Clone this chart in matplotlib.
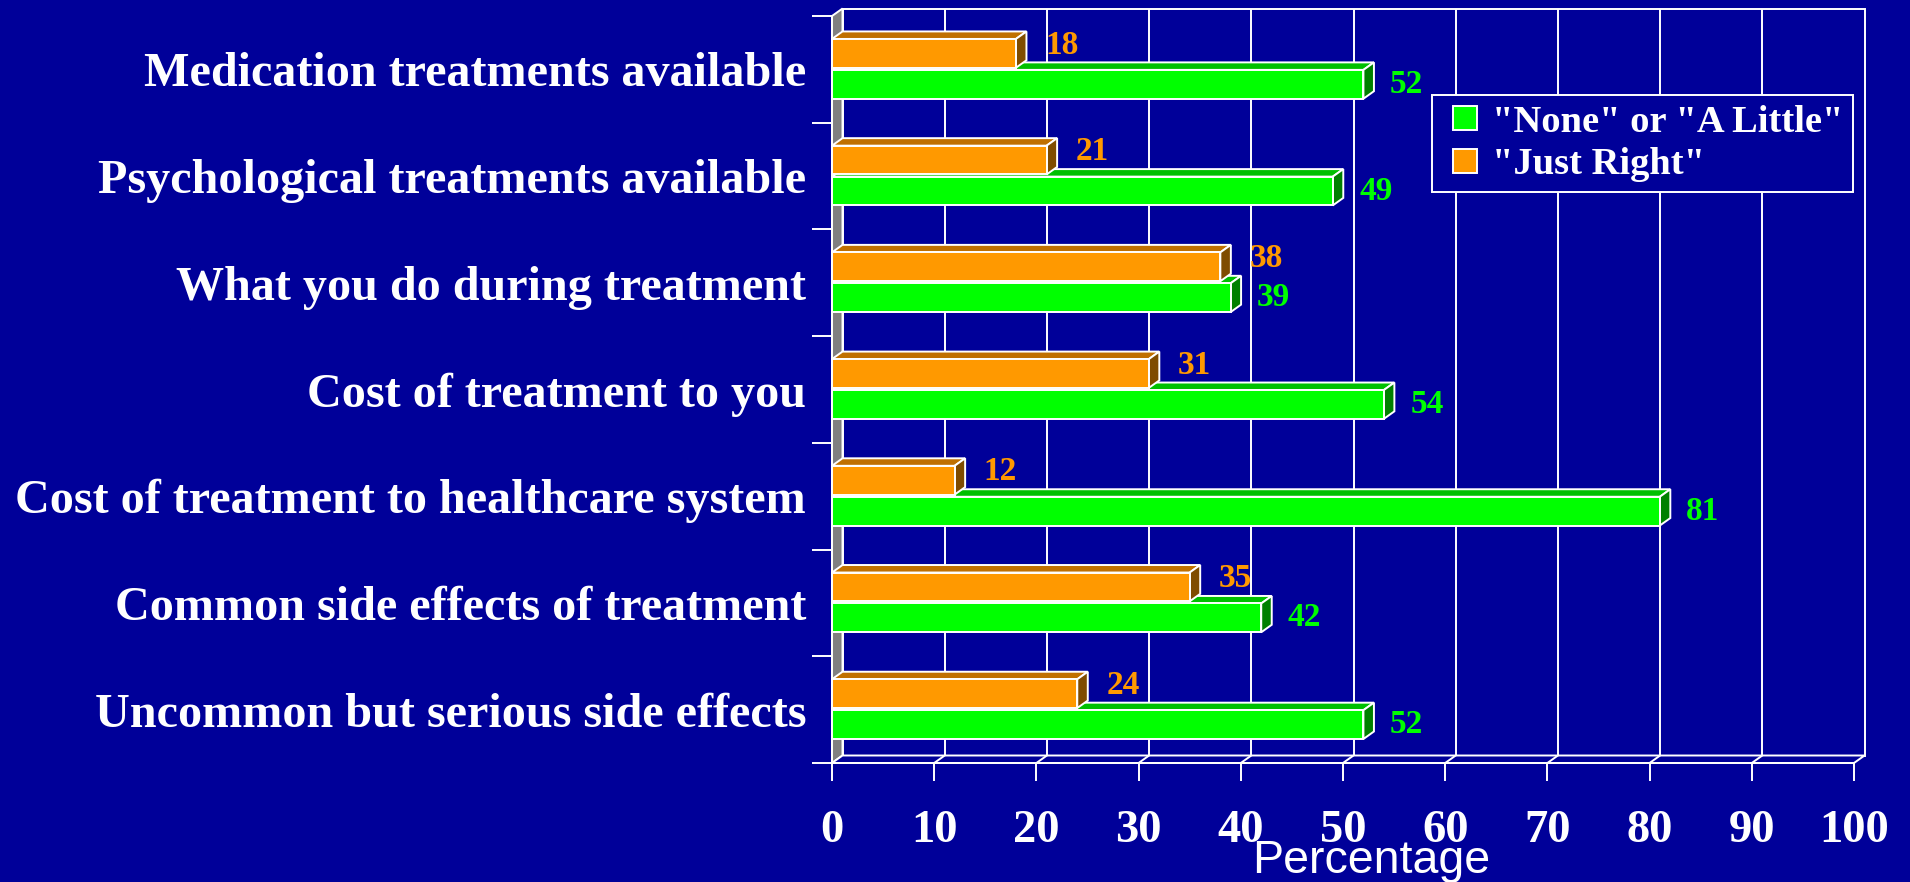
import matplotlib
matplotlib.use('Agg')
import matplotlib.pyplot as plt
from matplotlib.patches import Polygon, Patch, Rectangle
from matplotlib.legend_handler import HandlerPatch
from matplotlib.font_manager import FontProperties

# ---------------- data ----------------
categories = [
    "Medication treatments available",
    "Psychological treatments available",
    "What you do during treatment",
    "Cost of treatment to you",
    "Cost of treatment to healthcare system",
    "Common side effects of treatment",
    "Uncommon but serious side effects",
]
none_little = [52, 49, 39, 54, 81, 42, 52]
just_right = [18, 21, 38, 31, 12, 35, 24]
series_names = ['"None" or "A Little"', '"Just Right"']
x_ticks = [0, 10, 20, 30, 40, 50, 60, 70, 80, 90, 100]
x_label = "Percentage"

# ---------------- style ----------------
BG = '#000099'
GREEN, GREEN_TOP, GREEN_SIDE = '#00FF00', '#00C000', '#008000'
ORANGE, ORANGE_TOP, ORANGE_SIDE = '#FF9900', '#C07000', '#7F4C00'
WALL = '#808080'
LW = 1.4
SERIF = 'Liberation Serif'

W, H, DPI = 1910, 882, 100
fig = plt.figure(figsize=(W / DPI, H / DPI), dpi=DPI, facecolor=BG)
ax_left_px, ax_right_px, ax_top_px, ax_bot_px = 832, 1854, 16, 763
ax = fig.add_axes([ax_left_px / W, 1 - ax_bot_px / H,
                   (ax_right_px - ax_left_px) / W, (ax_bot_px - ax_top_px) / H])
ax.set_facecolor('none')
n = len(categories)
ax.set_xlim(x_ticks[0], x_ticks[-1])
ax.set_ylim(n, 0)

# 3D depth (pixels -> data units)
DX = 10.5 * (x_ticks[-1] - x_ticks[0]) / (ax_right_px - ax_left_px)
DY = -7.5 * n / (ax_bot_px - ax_top_px)
xmax = x_ticks[-1]

# back wall with grid
ax.add_patch(Polygon([(DX, DY), (xmax + DX, DY), (xmax + DX, n + DY), (DX, n + DY)],
                     closed=True, facecolor=BG, edgecolor='white', lw=LW, zorder=0.5,
                     clip_on=False))
for xv in x_ticks[1:-1]:
    ax.plot([xv + DX, xv + DX], [DY, n + DY], color='white', lw=LW, zorder=0.6,
            clip_on=False, solid_capstyle='butt')

# left side wall (gray)
ax.add_patch(Polygon([(0, 0), (DX, DY), (DX, n + DY), (0, n)], closed=True,
                     facecolor=WALL, edgecolor='white', lw=LW, zorder=1, clip_on=False))
# floor
ax.add_patch(Polygon([(0, n), (xmax, n), (xmax + DX, n + DY), (DX, n + DY)], closed=True,
                     facecolor=BG, edgecolor='white', lw=LW, zorder=1, clip_on=False))
for xv in x_ticks[1:-1]:
    ax.plot([xv, xv + DX], [n, n + DY], color='white', lw=LW, zorder=1.1, clip_on=False)

# bars
BAR_H = 0.27
green_y = [i + 0.64 for i in range(n)]
orange_y = [i + 0.35 for i in range(n)]


def faces3d(yc, v, top_c, side_c, z):
    y0, y1 = yc - BAR_H / 2, yc + BAR_H / 2
    ax.add_patch(Polygon([(0, y0), (v, y0), (v + DX, y0 + DY), (DX, y0 + DY)], closed=True,
                         facecolor=top_c, edgecolor='white', lw=LW, zorder=z,
                         clip_on=False, joinstyle='miter'))
    ax.add_patch(Polygon([(v, y0), (v, y1), (v + DX, y1 + DY), (v + DX, y0 + DY)], closed=True,
                         facecolor=side_c, edgecolor='white', lw=LW, zorder=z,
                         clip_on=False, joinstyle='miter'))


for yc, v in zip(green_y, none_little):
    faces3d(yc, v, GREEN_TOP, GREEN_SIDE, 2)
ax.barh(green_y, none_little, height=BAR_H, color=GREEN, edgecolor='white', lw=LW,
        zorder=2.1, label=series_names[0])
for yc, v in zip(orange_y, just_right):
    faces3d(yc, v, ORANGE_TOP, ORANGE_SIDE, 3)
ax.barh(orange_y, just_right, height=BAR_H, color=ORANGE, edgecolor='white', lw=LW,
        zorder=3.1, label=series_names[1])

# value labels
lab_font = dict(family=SERIF, weight='bold', size=24)
for yc, v in zip(green_y, none_little):
    ax.annotate(str(v), xy=(v, yc), xytext=(19, 0), textcoords='offset points',
                ha='left', va='center', color=GREEN, zorder=5, annotation_clip=False,
                **lab_font)
for yc, v in zip(orange_y, just_right):
    ax.annotate(str(v), xy=(v, yc), xytext=(21, 6), textcoords='offset points',
                ha='left', va='center', color=ORANGE, zorder=5, annotation_clip=False,
                **lab_font)

# axes decorations
for s in ['top', 'right']:
    ax.spines[s].set_visible(False)
for s in ['left', 'bottom']:
    ax.spines[s].set_color('white')
    ax.spines[s].set_linewidth(LW)
    ax.spines[s].set_zorder(1.2)

ax.set_xticks(x_ticks)
ax.set_xticklabels([str(t) for t in x_ticks], fontfamily=SERIF, fontweight='bold',
                   fontsize=33.5, color='white')
ax.tick_params(axis='x', direction='out', length=13, width=LW, color='white', pad=20.5)

ax.set_yticks([i + 0.5 for i in range(n)])
ax.set_yticklabels(categories, fontfamily=SERIF, fontweight='bold', fontsize=34.7,
                   color='white')
ax.set_yticks(list(range(n + 1)), minor=True)
ax.tick_params(axis='y', which='major', length=0, pad=18.7)
ax.tick_params(axis='y', which='minor', direction='out', length=14.4, width=LW,
               color='white')

ax.set_xlabel(x_label, fontfamily='Liberation Sans', fontsize=33.5, color='white')
ax.xaxis.set_label_coords((1371 - ax_left_px) / (ax_right_px - ax_left_px),
                          -(839 - ax_bot_px) / (ax_bot_px - ax_top_px))
ax.xaxis.label.set_va('top')


# legend with square markers set in from the left edge
def square_patch(legend, orig_handle, xdescent, ydescent, width, height, fontsize):
    return Rectangle((-xdescent + width - height, -ydescent), height, height)


handles = [Patch(facecolor=GREEN, edgecolor='white', lw=LW),
           Patch(facecolor=ORANGE, edgecolor='white', lw=LW)]
leg = fig.legend(handles=handles, labels=series_names, loc='upper left',
                 bbox_to_anchor=(1432 / W, 1 - 95 / H), bbox_transform=fig.transFigure,
                 frameon=True, fancybox=False, facecolor=BG, edgecolor='white',
                 framealpha=1, prop=FontProperties(family=SERIF, weight='bold', size=27.7),
                 labelcolor='white', handlelength=0.92, handleheight=0.6,
                 handletextpad=0.39, borderpad=0.25, labelspacing=0.2, borderaxespad=0,
                 handler_map={Patch: HandlerPatch(patch_func=square_patch)})
leg.get_frame().set_linewidth(LW)

fig.savefig('out.png', dpi=DPI, facecolor=BG)
